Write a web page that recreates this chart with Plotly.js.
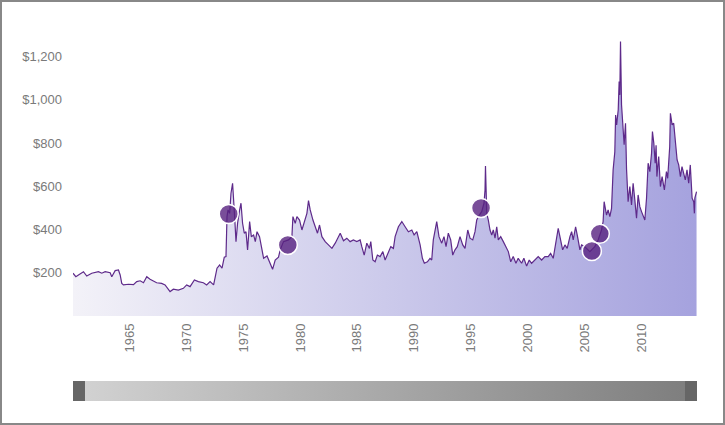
<!DOCTYPE html>
<html>
<head>
<meta charset="utf-8">
<script src="https://cdn.plot.ly/plotly-3.0.1.min.js"></script>
<style>
  html, body { margin: 0; padding: 0; background: #fff; }
  #frame {
    width: 725px; height: 425px;
    box-sizing: border-box;
    border: 2px solid #888;
    overflow: hidden;
  }
  #grafica { width: 721px; height: 421px; }
</style>
</head>
<body>
<div id="frame"><div id="grafica"></div></div>
<script>
// price series (decimal year, dollars)
const years = [
  1960.00, 1960.25, 1960.48, 1960.92, 1961.21, 1961.65, 1962.24, 1962.53, 1962.83, 1963.27,
  1963.41, 1963.71, 1964.00, 1964.15, 1964.29, 1964.44, 1964.88, 1965.32, 1965.61, 1965.91,
  1966.20, 1966.49, 1966.78, 1967.07, 1967.36, 1967.80, 1968.10, 1968.54, 1968.83, 1969.27,
  1969.71, 1970.00, 1970.30, 1970.68, 1971.03, 1971.47, 1971.76, 1972.06, 1972.37, 1972.52,
  1972.67, 1972.90, 1973.11, 1973.31, 1973.46, 1973.55, 1973.64, 1973.78, 1973.90, 1974.04,
  1974.13, 1974.22, 1974.34, 1974.48, 1974.66, 1974.78, 1974.92, 1975.07, 1975.22, 1975.36,
  1975.54, 1975.69, 1975.89, 1976.04, 1976.19, 1976.41, 1976.63, 1976.77, 1977.07, 1977.36,
  1977.56, 1977.79, 1978.08, 1978.23, 1978.52, 1978.96, 1979.26, 1979.35, 1979.55, 1979.70,
  1979.93, 1980.14, 1980.34, 1980.58, 1980.72, 1980.87, 1981.11, 1981.31, 1981.51, 1981.69,
  1981.90, 1982.19, 1982.48, 1982.78, 1983.07, 1983.27, 1983.51, 1983.80, 1984.09, 1984.38,
  1984.67, 1984.97, 1985.26, 1985.41, 1985.62, 1985.85, 1986.08, 1986.20, 1986.38, 1986.58,
  1986.78, 1987.02, 1987.26, 1987.46, 1987.75, 1987.96, 1988.19, 1988.34, 1988.63, 1988.93,
  1989.22, 1989.51, 1989.81, 1990.01, 1990.25, 1990.54, 1990.74, 1990.91, 1991.18, 1991.41,
  1991.56, 1991.70, 1992.00, 1992.20, 1992.44, 1992.64, 1992.82, 1993.02, 1993.23, 1993.41,
  1993.61, 1993.81, 1994.05, 1994.29, 1994.49, 1994.73, 1994.93, 1995.17, 1995.37, 1995.52,
  1995.75, 1995.96, 1996.16, 1996.25, 1996.29, 1996.40, 1996.54, 1996.69, 1996.84, 1996.98,
  1997.13, 1997.28, 1997.42, 1997.63, 1997.86, 1998.09, 1998.30, 1998.51, 1998.73, 1998.97,
  1999.17, 1999.47, 1999.67, 1999.91, 2000.14, 2000.35, 2000.64, 2000.93, 2001.23, 2001.52,
  2001.81, 2002.02, 2002.25, 2002.49, 2002.69, 2002.84, 2003.08, 2003.28, 2003.48, 2003.72,
  2003.87, 2004.01, 2004.22, 2004.39, 2004.60, 2004.75, 2005.03, 2005.47, 2005.91, 2006.20,
  2006.50, 2006.64, 2006.73, 2006.94, 2007.08, 2007.23, 2007.38, 2007.52, 2007.67, 2007.74,
  2007.83, 2007.97, 2008.05, 2008.11, 2008.17, 2008.26, 2008.40, 2008.49, 2008.61, 2008.70,
  2008.84, 2008.99, 2009.14, 2009.28, 2009.43, 2009.58, 2009.72, 2009.87, 2010.02, 2010.16,
  2010.31, 2010.46, 2010.60, 2010.75, 2010.90, 2010.98, 2011.10, 2011.22, 2011.30, 2011.37,
  2011.53, 2011.68, 2011.83, 2012.03, 2012.21, 2012.32, 2012.50, 2012.56, 2012.71, 2012.85,
  2013.00, 2013.08, 2013.15, 2013.29, 2013.44, 2013.58, 2013.73, 2013.87, 2014.02, 2014.17,
  2014.31, 2014.47, 2014.61, 2014.67, 2014.71, 2014.86
];

const prices = [
  198, 182, 190, 205, 185, 198, 205, 198, 205, 200,
  182, 210, 213, 190, 151, 144, 147, 145, 159, 163,
  154, 182, 170, 163, 154, 151, 144, 113, 124, 120,
  128, 144, 136, 167, 159, 154, 144, 159, 144, 182,
  221, 236, 221, 272, 275, 460, 491, 475, 568, 614,
  552, 460, 344, 429, 491, 522, 429, 383, 390, 306,
  437, 367, 375, 344, 390, 367, 306, 267, 278, 244,
  216, 259, 272, 306, 344, 352, 367, 460, 429, 460,
  444, 398, 429, 475, 534, 491, 444, 413, 383, 421,
  367, 344, 329, 313, 337, 360, 383, 348, 360, 344,
  352, 344, 352, 321, 282, 337, 313, 344, 259, 251,
  282, 275, 298, 259, 298, 321, 313, 367, 413, 437,
  413, 390, 398, 375, 390, 329, 267, 244, 251, 267,
  259, 352, 437, 367, 337, 367, 321, 383, 352, 282,
  306, 321, 367, 329, 313, 398, 360, 352, 390, 444,
  467, 483, 522, 583, 694, 475, 444, 398, 375, 398,
  360, 413, 352, 367, 344, 321, 298, 251, 275, 244,
  267, 244, 267, 231, 259, 244, 259, 275, 259, 275,
  275, 290, 267, 337, 406, 367, 306, 329, 313, 367,
  390, 352, 413, 367, 306, 329, 321, 298, 321, 352,
  398, 437, 529, 467, 491, 460, 498, 676, 760, 930,
  884, 954, 1085, 1023, 1270, 977, 861, 792, 892, 680,
  529, 599, 514, 614, 537, 452, 560, 506, 483, 460,
  444, 545, 707, 668, 753, 853, 800, 707, 790, 645,
  738, 599, 645, 583, 668, 637, 784, 938, 884, 892,
  792, 769, 722, 699, 645, 691, 660, 630, 676, 614,
  699, 545, 529, 475, 545, 575
];

// highlighted events (circles)
const eventYears = [1973.7, 1978.9, 1995.9, 2005.65, 2006.35];
const eventPrices = [472, 329, 500, 301, 380];

const xTicks = [1965, 1970, 1975, 1980, 1985, 1990, 1995, 2000, 2005, 2010];
const yTicks = [200, 400, 600, 800, 1000, 1200];

const fuente = {family: '"Liberation Sans", Arial, sans-serif', size: 13, color: '#7a7a7a'};

const xIni = years[0];
const xFin = years[years.length - 1];

let datos = [
  {
    x: years,
    y: prices,
    type: 'scatter',
    mode: 'lines',
    fill: 'tozeroy',
    fillgradient: {
      type: 'horizontal',
      colorscale: [[0, '#f3f2f8'], [1, '#a5a2de']]
    },
    line: {color: '#5e2a8a', width: 1.2},
    hoverinfo: 'skip'
  },
  {
    x: eventYears,
    y: eventPrices,
    type: 'scatter',
    mode: 'markers',
    marker: {
      size: 19,
      color: 'rgba(88,34,128,0.8)',
      line: {color: '#ffffff', width: 1.5}
    },
    hoverinfo: 'skip'
  },
  {
    // navigator bar under the axis
    x: [xIni, xFin, xFin, xIni, xIni],
    y: [0, 0, 1, 1, 0],
    xaxis: 'x2',
    yaxis: 'y2',
    type: 'scatter',
    mode: 'lines',
    fill: 'toself',
    fillgradient: {
      type: 'horizontal',
      colorscale: [[0, '#d3d3d3'], [1, '#7d7d7d']]
    },
    line: {width: 0},
    hoverinfo: 'skip'
  }
];

let layout = {
  width: 721,
  height: 421,
  margin: {l: 70.5, r: 25.7, t: 33, b: 22},
  paper_bgcolor: '#ffffff',
  plot_bgcolor: 'rgba(0,0,0,0)',
  showlegend: false,
  font: fuente,
  xaxis: {
    range: [xIni, 2014.9],
    tickvals: xTicks,
    ticktext: xTicks.map(String),
    tickangle: -90,
    tickfont: fuente,
    showgrid: false,
    zeroline: false,
    showline: false,
    ticks: '',
    ticklabelstandoff: 4,
    anchor: 'y',
    fixedrange: true
  },
  yaxis: {
    domain: [0.2322, 1],
    range: [0, 1300],
    tickvals: yTicks,
    ticktext: yTicks.map(v => '$' + v.toLocaleString('en-US')),
    tickfont: fuente,
    showgrid: false,
    zeroline: false,
    showline: false,
    ticks: '',
    ticklabelstandoff: 10,
    fixedrange: true
  },
  xaxis2: {
    range: [xIni, 2014.9],
    anchor: 'y2',
    visible: false,
    fixedrange: true
  },
  yaxis2: {
    domain: [0, 0.0546],
    range: [0, 1],
    visible: false,
    fixedrange: true
  },
  shapes: [
    {type: 'rect', xref: 'paper', yref: 'paper', x0: 0, x1: 0.0192, y0: 0, y1: 0.0546,
     fillcolor: '#666666', line: {width: 0}},
    {type: 'rect', xref: 'paper', yref: 'paper', x0: 0.9808, x1: 1, y0: 0, y1: 0.0546,
     fillcolor: '#666666', line: {width: 0}}
  ]
};

Plotly.newPlot('grafica', datos, layout, {displayModeBar: false});
</script>
</body>
</html>
